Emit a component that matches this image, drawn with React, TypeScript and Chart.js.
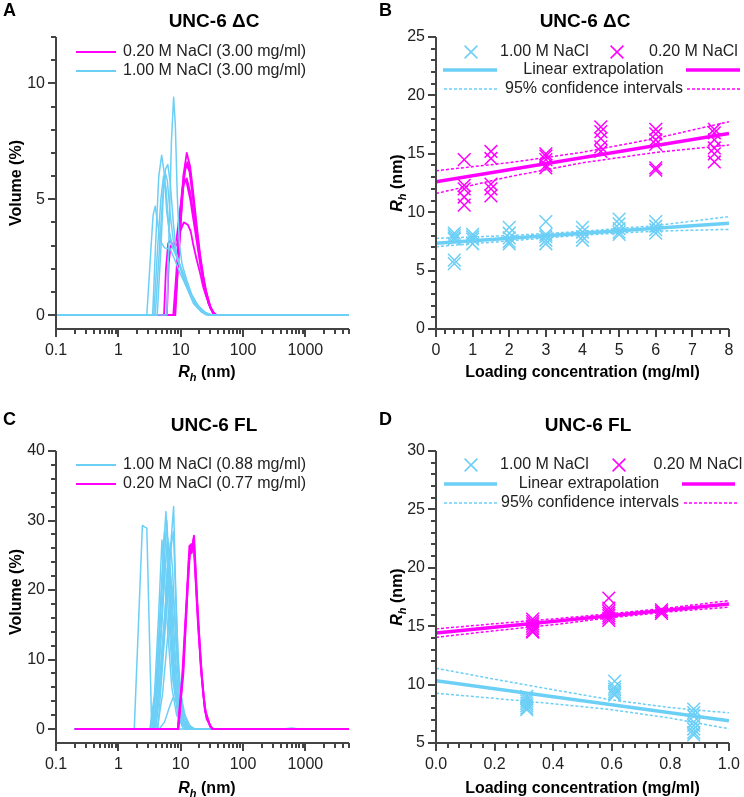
import React, { useEffect, useRef } from 'react';
import { Chart, registerables } from 'chart.js';

Chart.register(...registerables);

type Pt = [number, number];

const CYAN = '#6CCFF6';
const MAGENTA = '#FF00FF';
const AXIS_COLOR = '#444444';
const TEXT_COLOR = '#222222';
const FONT = '"Liberation Sans", Arial, Helvetica, sans-serif';

// ---------------- Panel A : UNC-6 ΔC DLS volume distributions ----------------
const aTitle = 'UNC-6 ΔC';
const aLowSaltLabel = '0.20 M NaCl (3.00 mg/ml)';
const aHighSaltLabel = '1.00 M NaCl (3.00 mg/ml)';
const aXTicks = [0.1, 1, 10, 100, 1000];
const aXTickLabels = ['0.1', '1', '10', '100', '1000'];
const aYTicks = [0, 5, 10];
const aYTickLabels = ['0', '5', '10'];
const aHighSaltCurves: Pt[][] = [
  [[0.1, 0], [2.86, 0], [3.25, 2.4], [3.6, 4.3], [3.9, 4.7], [4.2, 4.1], [4.7, 3.2], [5.5, 2.9], [6.8, 2.85], [8.0, 2.4], [9.8, 1.8], [12.5, 1.2], [15, 0.8], [18, 0.45], [23, 0.18], [27, 0.05], [31, 0], [5000, 0]],
  [[0.1, 0], [3.55, 0], [3.95, 3.0], [4.45, 6.0], [4.95, 6.9], [5.4, 6.2], [6.0, 4.4], [7.0, 3.1], [8.6, 2.5], [11, 1.8], [14, 1.0], [18, 0.5], [23, 0.15], [29, 0], [5000, 0]],
  [[0.1, 0], [3.9, 0], [4.5, 2.6], [5.1, 5.0], [5.7, 6.3], [6.2, 6.5], [6.8, 5.7], [7.6, 4.0], [8.6, 2.6], [10, 2.0], [12.5, 1.3], [16, 0.6], [22, 0.15], [30, 0], [5000, 0]],
  [[0.1, 0], [3.7, 0], [4.2, 2.6], [4.8, 5.0], [5.3, 6.0], [5.8, 5.5], [6.5, 3.6], [7.5, 2.9], [8.6, 2.6], [10.5, 1.9], [13, 1.2], [17, 0.5], [22, 0.15], [28, 0], [5000, 0]],
  [[0.1, 0], [4.2, 0], [4.8, 2.8], [5.3, 5.4], [5.7, 6.1], [6.1, 5.8], [6.8, 4.3], [7.8, 3.0], [9.2, 2.3], [12, 1.3], [16, 0.5], [21, 0.15], [26, 0], [5000, 0]],
  [[0.1, 0], [6.0, 0], [6.5, 3.5], [7.1, 7.5], [7.7, 9.4], [8.2, 8.2], [8.8, 5.2], [9.5, 3.1], [10.5, 2.2], [12.5, 1.5], [15, 0.9], [19, 0.4], [25, 0.1], [33, 0], [5000, 0]],
];
const aLowSaltCurves: Pt[][] = [
  [[0.1, 0], [7.8, 0], [8.6, 1.5], [9.8, 3.8], [11, 6.0], [12.5, 7.0], [14.2, 6.4], [16, 5.2], [18, 3.9], [20.5, 2.6], [23, 1.7], [26, 0.95], [29.6, 0.4], [33, 0.1], [37, 0], [5000, 0]],
  [[0.1, 0], [8.0, 0], [9.0, 2.0], [10.2, 4.3], [11.3, 6.0], [12.3, 6.5], [13.8, 6.2], [16, 4.9], [18, 3.6], [20.5, 2.4], [23, 1.5], [26, 0.85], [30, 0.3], [35, 0], [5000, 0]],
  [[0.1, 0], [7.6, 0], [8.5, 1.8], [9.6, 4.0], [10.5, 5.4], [11.2, 5.9], [12.5, 5.7], [14.2, 5.0], [16, 4.1], [18, 3.2], [20.5, 2.2], [24, 1.2], [28, 0.5], [33, 0.1], [38, 0], [5000, 0]],
  [[0.1, 0], [5.4, 0], [5.8, 2.0], [6.3, 3.1], [6.8, 3.2], [7.6, 3.0], [8.6, 3.0], [9.8, 3.6], [11.2, 4.0], [13, 3.9], [14.5, 3.6], [16, 3.0], [18, 2.4], [20.5, 1.8], [23, 1.2], [26, 0.75], [30, 0.3], [35, 0], [5000, 0]],
  [[0.1, 0], [8.2, 0], [9.2, 2.5], [10.5, 5.0], [11.8, 6.3], [12.8, 6.6], [14.2, 6.2], [16, 5.0], [18, 3.7], [20.5, 2.5], [24, 1.3], [28, 0.5], [34, 0], [5000, 0]],
  [[0.1, 0], [6.0, 0], [6.4, 2.2], [6.9, 3.0], [7.6, 2.9], [8.6, 3.3], [9.8, 4.6], [11, 5.6], [12.5, 5.9], [14.2, 5.3], [16, 4.4], [18, 3.4], [21, 2.2], [25, 1.1], [30, 0.35], [36, 0], [5000, 0]],
];

// ---------------- Panel B : UNC-6 ΔC Rh vs loading concentration ----------------
const bXTicks = [0, 1, 2, 3, 4, 5, 6, 7, 8];
const bXTickLabels = ['0', '1', '2', '3', '4', '5', '6', '7', '8'];
const bYTicks = [0, 5, 10, 15, 20, 25];
const bYTickLabels = ['0', '5', '10', '15', '20', '25'];
const bHighSaltConc = [0.5, 1, 2, 3, 4, 5, 6];
const bHighSaltRh = [
  [8.2, 8.0, 7.8, 7.7, 5.9, 5.6],
  [8.1, 7.9, 7.7, 7.3],
  [8.7, 8.2, 7.8, 7.5, 7.3],
  [9.2, 8.1, 7.9, 7.6, 7.3],
  [8.7, 8.3, 7.9, 7.6],
  [9.4, 9.0, 8.6, 8.3, 8.1],
  [9.2, 8.8, 8.5, 8.2],
];
const bLowSaltConc = [0.77, 1.5, 3, 4.5, 6, 7.6];
const bLowSaltRh = [
  [14.5, 12.3, 12.0, 11.3, 10.6],
  [15.2, 14.6, 12.4, 12.0, 11.4],
  [15.0, 14.8, 14.5, 14.0, 13.8],
  [17.3, 16.9, 16.3, 15.6, 15.2],
  [17.1, 16.7, 16.2, 15.8, 13.8, 13.6],
  [17.1, 16.8, 16.2, 15.5, 15.0, 14.3],
];
const bHighSaltFit: Pt[] = [[0, 7.34], [8, 9.05]];
const bLowSaltFit: Pt[] = [[0, 12.6], [8, 16.75]];
const bCiConc = [0, 2, 4, 6, 8];
const bHighSaltUpper = [7.76, 8.0, 8.36, 8.85, 9.62];
const bHighSaltLower = [7.05, 7.55, 8.04, 8.38, 8.53];
const bLowSaltUpper = [13.55, 14.24, 15.13, 16.32, 17.75];
const bLowSaltLower = [11.6, 13.04, 14.23, 15.12, 15.75];

// ---------------- Panel C : UNC-6 FL DLS volume distributions ----------------
const cTitle = 'UNC-6 FL';
const cHighSaltLabel = '1.00 M NaCl (0.88 mg/ml)';
const cLowSaltLabel = '0.20 M NaCl (0.77 mg/ml)';
const cXTicks = [0.1, 1, 10, 100, 1000];
const cXTickLabels = ['0.1', '1', '10', '100', '1000'];
const cYTicks = [0, 10, 20, 30, 40];
const cYTickLabels = ['0', '10', '20', '30', '40'];
const cHighSaltCurves: Pt[][] = [
  [[0.2, 0], [1.8, 0], [2.43, 29.3], [2.62, 29.1], [2.86, 28.9], [3.43, 0], [5000, 0]],
  [[0.2, 0], [3.3, 0], [4.1, 6], [4.8, 17], [5.4, 27], [5.8, 31.3], [6.3, 24], [7.0, 14], [8.0, 6], [9.5, 2], [12, 0.5], [15, 0], [450, 0], [600, 0.15], [800, 0], [5000, 0]],
  [[0.2, 0], [4.3, 0], [5.0, 8], [5.8, 16], [6.6, 24], [7.2, 28.5], [7.7, 32.0], [8.2, 22], [9.0, 11], [10, 5], [12, 1.5], [15, 0], [5000, 0]],
  [[0.2, 0], [4.0, 0], [4.8, 7], [5.6, 15], [6.5, 23], [7.2, 27], [7.65, 28.4], [8.3, 19], [9.3, 8], [11, 2.5], [14, 0.5], [17, 0], [5000, 0]],
  [[0.2, 0], [3.2, 0], [3.8, 5], [4.4, 16], [5.0, 27.2], [5.5, 22], [6.2, 14], [7.2, 6], [8.6, 2], [11, 0.4], [13, 0], [5000, 0]],
  [[0.2, 0], [3.6, 0], [4.3, 6], [5.0, 15], [5.7, 24], [6.2, 27.5], [6.8, 22], [7.6, 13], [8.8, 5], [10.5, 1.5], [13, 0], [5000, 0]],
  [[0.2, 0], [3.5, 0], [4.2, 8], [4.9, 20], [5.5, 28.5], [6.0, 25], [6.7, 16], [7.8, 7], [9.5, 2], [12, 0], [5000, 0]],
  [[0.2, 0], [3.9, 0], [4.6, 7], [5.4, 15], [6.2, 22], [6.8, 26.8], [7.4, 23], [8.3, 13], [9.5, 5], [11.5, 1.2], [14, 0], [5000, 0]],
  [[0.2, 0], [3.7, 0], [4.4, 8], [5.1, 18], [5.6, 26], [6.0, 30], [6.5, 23], [7.3, 13], [8.5, 5], [10.5, 1], [13, 0], [5000, 0]],
  [[0.2, 0], [4.5, 0], [5.5, 1], [6.5, 3], [7.5, 4.5], [8.3, 4.2], [9.5, 2.5], [11.5, 0.8], [14, 0.2], [17, 0], [5000, 0]],
  [[0.2, 0], [3.4, 0], [4.0, 6], [4.7, 17], [5.3, 25], [5.8, 23], [6.5, 15], [7.5, 7], [9, 2], [11, 0], [5000, 0]],
  [[0.2, 0], [4.2, 0], [5.1, 5], [6.0, 12], [6.8, 18], [7.3, 20.5], [8.0, 17], [9.0, 9], [10.5, 3], [13, 0.5], [16, 0], [5000, 0]],
  [[0.2, 0], [3.8, 0], [4.6, 7], [5.5, 16], [6.1, 22], [6.5, 25], [7.1, 21], [8.0, 12], [9.3, 4], [11.5, 0.8], [14, 0], [5000, 0]],
];
const cLowSaltCurves: Pt[][] = [
  [[0.2, 0], [9.0, 0], [10.5, 7], [12.5, 19], [13.8, 26.3], [14.8, 26.6], [15.6, 26.0], [16.3, 27.8], [18.5, 18], [21.5, 8], [24.6, 2.8], [29.6, 0.4], [33, 0], [5000, 0]],
  [[0.2, 0], [9.2, 0], [11, 9], [13, 21], [14.2, 26.0], [15.0, 25.3], [16.0, 27.2], [18, 19], [21, 9], [24.6, 2.5], [30, 0.3], [33.5, 0], [5000, 0]],
  [[0.2, 0], [9.0, 0], [11, 8], [13.5, 24], [14.5, 26.4], [15.5, 25.8], [16.2, 27.5], [19, 15], [23, 5], [26, 1.5], [32, 0], [5000, 0]],
];

// ---------------- Panel D : UNC-6 FL Rh vs loading concentration ----------------
const dXTicks = [0, 0.2, 0.4, 0.6, 0.8, 1.0];
const dXTickLabels = ['0.0', '0.2', '0.4', '0.6', '0.8', '1.0'];
const dYTicks = [5, 10, 15, 20, 25, 30];
const dYTickLabels = ['5', '10', '15', '20', '25', '30'];
const dHighSaltConc = [0.31, 0.61, 0.88];
const dHighSaltRh = [
  [9.0, 8.8, 8.6, 8.4, 8.2, 8.0, 7.85],
  [10.3, 9.8, 9.6, 9.4, 9.2, 9.1],
  [7.9, 7.6, 7.3, 6.8, 6.5, 6.2, 5.9, 5.7],
];
const dLowSaltConc = [0.33, 0.59, 0.77];
const dLowSaltRh = [
  [15.6, 15.4, 15.2, 15.0, 14.8, 14.6, 14.5],
  [17.4, 16.55, 16.3, 16.1, 15.9, 15.7, 15.5],
  [16.4, 16.25, 16.1],
];
const dHighSaltFit: Pt[] = [[0, 10.33], [1, 6.9]];
const dLowSaltFit: Pt[] = [[0, 14.41], [1, 16.91]];
const dCiConc = [0, 0.2, 0.4, 0.6, 0.8, 1.0];
const dHighSaltUpper = [11.4, 10.46, 9.56, 8.69, 8.03, 7.58];
const dHighSaltLower = [9.26, 8.82, 8.36, 7.85, 7.13, 6.22];
const dLowSaltUpper = [14.77, 15.21, 15.62, 16.08, 16.58, 17.19];
const dLowSaltLower = [14.05, 14.61, 15.12, 15.74, 16.24, 16.63];

// ---------------- shared text ----------------
const highSaltShort = '1.00 M NaCl';
const lowSaltShort = '0.20 M NaCl';
const fitLabel = 'Linear extrapolation';
const ciLabel = '95% confidence intervals';
const concTitle = 'Loading concentration (mg/ml)';
const volTitle = 'Volume (%)';

// ---------------- helpers ----------------
const f = (style: string, size: number) => `${style} ${size}px ${FONT}`;
const rhParts = [
  { t: 'R', font: f('italic bold', 16) },
  { t: 'h', font: f('italic bold', 11), dy: 4 },
  { t: ' (nm)', font: f('bold', 16) },
];

function logMinor(from: number, to: number): number[] {
  const out: number[] = [];
  for (let d = from; d < to; d *= 10) {
    for (let k = 2; k <= 9; k++) {
      const v = +(k * d).toPrecision(6);
      if (v <= to * 1.0001) out.push(v);
    }
  }
  return out;
}
function linMinor(min: number, max: number, step: number, major: number): number[] {
  const out: number[] = [];
  const n0 = Math.round(min / step), n1 = Math.round(max / step);
  for (let i = n0; i <= n1; i++) {
    const v = +(i * step).toFixed(6);
    const r = v / major;
    if (Math.abs(r - Math.round(r)) > 1e-6) out.push(v);
  }
  return out;
}

const xy = (pts: Pt[]) => pts.map(([x, y]) => ({ x, y }));

function curveSets(curves: Pt[][], color: string, width: number) {
  return curves.map((c) => ({
    data: xy(c),
    showLine: true,
    borderColor: color,
    backgroundColor: color,
    borderWidth: width,
    borderJoinStyle: 'round',
    pointRadius: 0,
    pointHoverRadius: 0,
    fill: false,
    tension: 0,
  }));
}
function markerSet(conc: number[], rh: number[][], color: string) {
  return {
    data: conc.flatMap((c, i) => rh[i].map((r) => ({ x: c, y: r }))),
    showLine: false,
    pointStyle: 'crossRot',
    pointRadius: 9,
    pointHoverRadius: 9,
    pointBorderWidth: 1.5,
    borderWidth: 1.5,
    borderColor: color,
    backgroundColor: color,
  };
}
function lineSet(pts: Pt[], color: string, width: number, dash: number[] = []) {
  return {
    data: xy(pts),
    showLine: true,
    borderColor: color,
    backgroundColor: color,
    borderWidth: width,
    borderDash: dash,
    pointRadius: 0,
    pointHoverRadius: 0,
    fill: false,
    tension: 0,
  };
}
const zipPts = (xs: number[], ys: number[]): Pt[] => xs.map((x, i) => [x, ys[i]]);

interface TextPart { t: string; font: string; dy?: number }
type LegendItem =
  | { kind: 'line'; x1: number; x2: number; y: number; color: string; width: number; dash?: number[] }
  | { kind: 'cross'; x: number; y: number; color: string }
  | { kind: 'text'; text: string; x: number; y: number; align: CanvasTextAlign };

interface Decor {
  letter: string; letterX: number; letterY: number;
  title: string; titleX: number; titleY: number;
  xTitle: TextPart[]; xTitleX: number; xTitleY: number;
  yTitle: TextPart[]; yTitleX: number; yTitleY: number;
  majorX: number[]; majorY: number[];
  minorX: number[]; minorY: number[];
  legend: LegendItem[];
}

function drawParts(ctx: CanvasRenderingContext2D, parts: TextPart[], cx: number, cy: number, rotated: boolean) {
  ctx.save();
  ctx.translate(cx, cy);
  if (rotated) ctx.rotate(-Math.PI / 2);
  let total = 0;
  const widths = parts.map((p) => {
    ctx.font = p.font;
    const w = ctx.measureText(p.t).width;
    total += w;
    return w;
  });
  let x = -total / 2;
  ctx.fillStyle = '#000';
  ctx.textAlign = 'left';
  ctx.textBaseline = 'alphabetic';
  parts.forEach((p, i) => {
    ctx.font = p.font;
    ctx.fillText(p.t, x, 6 + (p.dy || 0));
    x += widths[i];
  });
  ctx.restore();
}

const MAJOR_LEN = 8;
const MINOR_LEN = 5;

function decorPlugin(d: Decor) {
  return {
    id: 'figureDecor',
    afterDraw(chart: any) {
      const ctx: CanvasRenderingContext2D = chart.ctx;
      const a = chart.chartArea;
      const xs = chart.scales.x;
      const ys = chart.scales.y;
      ctx.save();
      ctx.setLineDash([]);
      // tick marks (major + minor), pixel-aligned, 2px wide
      ctx.fillStyle = AXIS_COLOR;
      const bottom = Math.round(a.bottom);
      const left = Math.round(a.left);
      const xTick = (v: number, len: number) => {
        const p = Math.round(xs.getPixelForValue(v));
        ctx.fillRect(p - 1, bottom, 2, len);
      };
      const yTick = (v: number, len: number) => {
        const p = Math.round(ys.getPixelForValue(v));
        ctx.fillRect(left - len, p - 1, len, 2);
      };
      d.majorX.forEach((v) => xTick(v, MAJOR_LEN));
      d.minorX.forEach((v) => xTick(v, MINOR_LEN));
      d.majorY.forEach((v) => yTick(v, MAJOR_LEN));
      d.minorY.forEach((v) => yTick(v, MINOR_LEN));
      // axis lines
      ctx.fillRect(left - 1, Math.round(a.top), 2, bottom - Math.round(a.top) + 1);
      ctx.fillRect(left - 1, bottom - 1, Math.round(a.right) - left + 1, 2);
      // letter + title
      ctx.fillStyle = '#000';
      ctx.textBaseline = 'middle';
      ctx.textAlign = 'left';
      ctx.font = f('bold', 18);
      ctx.fillText(d.letter, d.letterX, d.letterY);
      ctx.textAlign = 'center';
      ctx.font = f('bold', 19);
      ctx.fillText(d.title, d.titleX, d.titleY);
      // axis titles
      drawParts(ctx, d.xTitle, d.xTitleX, d.xTitleY, false);
      drawParts(ctx, d.yTitle, d.yTitleX, d.yTitleY, true);
      // legend
      d.legend.forEach((it) => {
        if (it.kind === 'line') {
          ctx.save();
          ctx.strokeStyle = it.color;
          ctx.lineWidth = it.width;
          ctx.setLineDash(it.dash || []);
          ctx.beginPath();
          ctx.moveTo(it.x1, it.y);
          ctx.lineTo(it.x2, it.y);
          ctx.stroke();
          ctx.restore();
        } else if (it.kind === 'cross') {
          const r = 6.4;
          ctx.save();
          ctx.strokeStyle = it.color;
          ctx.lineWidth = 1.5;
          ctx.beginPath();
          ctx.moveTo(it.x - r, it.y - r);
          ctx.lineTo(it.x + r, it.y + r);
          ctx.moveTo(it.x - r, it.y + r);
          ctx.lineTo(it.x + r, it.y - r);
          ctx.stroke();
          ctx.restore();
        } else {
          ctx.fillStyle = TEXT_COLOR;
          ctx.font = f('normal', 16);
          ctx.textAlign = it.align;
          ctx.textBaseline = 'middle';
          ctx.fillText(it.text, it.x, it.y);
        }
      });
      ctx.restore();
    },
  };
}

interface AxisSpec { type: string; min: number; max: number; major: number[]; labels: string[] }
interface Area { left: number; top: number; right: number; bottom: number }

function axisOptions(ax: AxisSpec, isX: boolean, size: number) {
  return {
    type: ax.type,
    position: isX ? 'bottom' : 'left',
    min: ax.min,
    max: ax.max,
    afterBuildTicks: (s: any) => {
      s.ticks = ax.major.map((v) => ({ value: v }));
    },
    afterFit: (s: any) => {
      if (isX) s.height = size;
      else s.width = size;
    },
    ticks: {
      autoSkip: false,
      maxRotation: 0,
      minRotation: 0,
      padding: isX ? 4 : 3,
      color: TEXT_COLOR,
      font: { family: FONT, size: 16 },
      callback: (v: number) => {
        const i = ax.major.findIndex((m) => Math.abs(m - v) < 1e-9);
        return i >= 0 ? ax.labels[i] : '';
      },
    },
    grid: {
      display: true,
      drawOnChartArea: false,
      drawTicks: true,
      tickLength: MAJOR_LEN,
      color: 'rgba(0,0,0,0)',
      tickColor: 'rgba(0,0,0,0)',
      lineWidth: 1,
    },
    border: { display: false },
    title: { display: false },
  };
}

function makeConfig(W: number, H: number, area: Area, x: AxisSpec, y: AxisSpec, datasets: any[], decor: Decor) {
  return {
    type: 'scatter',
    data: { datasets },
    options: {
      responsive: false,
      maintainAspectRatio: false,
      animation: false,
      devicePixelRatio: 1,
      events: [],
      layout: { padding: { left: 0, top: area.top, right: W - area.right, bottom: 0 } },
      plugins: { legend: { display: false }, tooltip: { enabled: false }, title: { display: false } },
      scales: {
        x: axisOptions(x, true, H - area.bottom),
        y: axisOptions(y, false, area.left),
      },
    },
    plugins: [decorPlugin(decor)],
  };
}

// ---------------- panel configs ----------------
const W = 372;
const TOP_H = 390;
const BOT_H = 407;

function configA() {
  const area = { left: 56, top: 37, right: 349, bottom: 329 };
  return makeConfig(
    W, TOP_H, area,
    { type: 'logarithmic', min: 0.1, max: 5000, major: aXTicks, labels: aXTickLabels },
    { type: 'linear', min: -0.6, max: 12, major: aYTicks, labels: aYTickLabels },
    [...curveSets(aHighSaltCurves, CYAN, 1.5), ...curveSets(aLowSaltCurves, MAGENTA, 1.8)],
    {
      letter: 'A', letterX: 3, letterY: 11,
      title: aTitle, titleX: 214, titleY: 22,
      xTitle: rhParts, xTitleX: 207, xTitleY: 371,
      yTitle: [{ t: volTitle, font: f('bold', 16) }], yTitleX: 15, yTitleY: 183,
      majorX: aXTicks, majorY: aYTicks,
      minorX: logMinor(0.1, 5000), minorY: linMinor(0, 12, 1, 5),
      legend: [
        { kind: 'line', x1: 76, x2: 116, y: 52, color: MAGENTA, width: 2 },
        { kind: 'text', text: aLowSaltLabel, x: 123, y: 52, align: 'left' },
        { kind: 'line', x1: 76, x2: 116, y: 71, color: CYAN, width: 2 },
        { kind: 'text', text: aHighSaltLabel, x: 123, y: 71, align: 'left' },
      ],
    },
  );
}

function configB() {
  const area = { left: 64, top: 37, right: 357, bottom: 329 };
  return makeConfig(
    W, TOP_H, area,
    { type: 'linear', min: 0, max: 8, major: bXTicks, labels: bXTickLabels },
    { type: 'linear', min: 0, max: 25, major: bYTicks, labels: bYTickLabels },
    [
      markerSet(bLowSaltConc, bLowSaltRh, MAGENTA),
      markerSet(bHighSaltConc, bHighSaltRh, CYAN),
      lineSet(bLowSaltFit, MAGENTA, 3.5),
      lineSet(bHighSaltFit, CYAN, 3.5),
      lineSet(zipPts(bCiConc, bLowSaltUpper), MAGENTA, 1.5, [3, 2]),
      lineSet(zipPts(bCiConc, bLowSaltLower), MAGENTA, 1.5, [3, 2]),
      lineSet(zipPts(bCiConc, bHighSaltUpper), CYAN, 1.5, [3, 2]),
      lineSet(zipPts(bCiConc, bHighSaltLower), CYAN, 1.5, [3, 2]),
    ],
    {
      letter: 'B', letterX: 7, letterY: 11,
      title: aTitle, titleX: 213, titleY: 22,
      xTitle: [{ t: concTitle, font: f('bold', 16) }], xTitleX: 210.5, xTitleY: 371,
      yTitle: rhParts, yTitleX: 24, yTitleY: 183,
      majorX: bXTicks, majorY: bYTicks,
      minorX: linMinor(0, 8, 0.25, 1), minorY: linMinor(0, 25, 1, 5),
      legend: [
        { kind: 'cross', x: 99, y: 52, color: CYAN },
        { kind: 'text', text: highSaltShort, x: 128, y: 52, align: 'left' },
        { kind: 'cross', x: 245, y: 52, color: MAGENTA },
        { kind: 'text', text: lowSaltShort, x: 277, y: 52, align: 'left' },
        { kind: 'line', x1: 71, x2: 125, y: 70, color: CYAN, width: 3.5 },
        { kind: 'text', text: fitLabel, x: 221.5, y: 70, align: 'center' },
        { kind: 'line', x1: 314, x2: 368, y: 70, color: MAGENTA, width: 3.5 },
        { kind: 'line', x1: 72, x2: 125, y: 89, color: CYAN, width: 1.5, dash: [3, 2] },
        { kind: 'text', text: ciLabel, x: 222, y: 89, align: 'center' },
        { kind: 'line', x1: 315, x2: 368, y: 89, color: MAGENTA, width: 1.5, dash: [3, 2] },
      ],
    },
  );
}

function configC() {
  const area = { left: 56, top: 61, right: 349, bottom: 353 };
  return makeConfig(
    W, BOT_H, area,
    { type: 'logarithmic', min: 0.1, max: 5000, major: cXTicks, labels: cXTickLabels },
    { type: 'linear', min: -2, max: 40, major: cYTicks, labels: cYTickLabels },
    [...curveSets(cLowSaltCurves, MAGENTA, 2), ...curveSets(cHighSaltCurves, CYAN, 1.5)],
    {
      letter: 'C', letterX: 3, letterY: 30,
      title: cTitle, titleX: 214, titleY: 36,
      xTitle: rhParts, xTitleX: 207, xTitleY: 397,
      yTitle: [{ t: volTitle, font: f('bold', 16) }], yTitleX: 15, yTitleY: 202,
      majorX: cXTicks, majorY: cYTicks,
      minorX: logMinor(0.1, 5000), minorY: linMinor(0, 40, 2, 10),
      legend: [
        { kind: 'line', x1: 76, x2: 116, y: 75, color: CYAN, width: 2 },
        { kind: 'text', text: cHighSaltLabel, x: 123, y: 75, align: 'left' },
        { kind: 'line', x1: 76, x2: 116, y: 94, color: MAGENTA, width: 2 },
        { kind: 'text', text: cLowSaltLabel, x: 123, y: 94, align: 'left' },
      ],
    },
  );
}

function configD() {
  const area = { left: 64, top: 61, right: 357, bottom: 353 };
  return makeConfig(
    W, BOT_H, area,
    { type: 'linear', min: 0, max: 1, major: dXTicks, labels: dXTickLabels },
    { type: 'linear', min: 5, max: 30, major: dYTicks, labels: dYTickLabels },
    [
      markerSet(dLowSaltConc, dLowSaltRh, MAGENTA),
      markerSet(dHighSaltConc, dHighSaltRh, CYAN),
      lineSet(dLowSaltFit, MAGENTA, 3.5),
      lineSet(dHighSaltFit, CYAN, 3.5),
      lineSet(zipPts(dCiConc, dLowSaltUpper), MAGENTA, 1.5, [3, 2]),
      lineSet(zipPts(dCiConc, dLowSaltLower), MAGENTA, 1.5, [3, 2]),
      lineSet(zipPts(dCiConc, dHighSaltUpper), CYAN, 1.5, [3, 2]),
      lineSet(zipPts(dCiConc, dHighSaltLower), CYAN, 1.5, [3, 2]),
    ],
    {
      letter: 'D', letterX: 7, letterY: 30,
      title: cTitle, titleX: 216, titleY: 36,
      xTitle: [{ t: concTitle, font: f('bold', 16) }], xTitleX: 210.5, xTitleY: 397,
      yTitle: rhParts, yTitleX: 24, yTitleY: 207,
      majorX: dXTicks, majorY: dYTicks,
      minorX: linMinor(0, 1, 0.04, 0.2), minorY: linMinor(5, 30, 1, 5),
      legend: [
        { kind: 'cross', x: 99, y: 75, color: CYAN },
        { kind: 'text', text: highSaltShort, x: 128, y: 75, align: 'left' },
        { kind: 'cross', x: 247, y: 75, color: MAGENTA },
        { kind: 'text', text: lowSaltShort, x: 281.5, y: 75, align: 'left' },
        { kind: 'line', x1: 72, x2: 125, y: 94, color: CYAN, width: 3.5 },
        { kind: 'text', text: fitLabel, x: 217, y: 94, align: 'center' },
        { kind: 'line', x1: 310, x2: 363, y: 94, color: MAGENTA, width: 3.5 },
        { kind: 'line', x1: 72, x2: 125, y: 113, color: CYAN, width: 1.5, dash: [3, 2] },
        { kind: 'text', text: ciLabel, x: 218, y: 113, align: 'center' },
        { kind: 'line', x1: 312, x2: 365, y: 113, color: MAGENTA, width: 1.5, dash: [3, 2] },
      ],
    },
  );
}

function Panel(props: { left: number; top: number; width: number; height: number; build: () => any }) {
  const ref = useRef<HTMLCanvasElement | null>(null);
  useEffect(() => {
    if (!ref.current) return;
    const chart = new Chart(ref.current, props.build());
    return () => chart.destroy();
  }, []);
  return (
    <canvas
      ref={ref}
      width={props.width}
      height={props.height}
      style={{ position: 'absolute', left: props.left, top: props.top, width: props.width, height: props.height }}
    />
  );
}

export default function App() {
  return (
    <div style={{ position: 'absolute', left: 0, top: 0, width: 744, height: 797, background: '#fff', overflow: 'hidden' }}>
      <Panel left={0} top={0} width={W} height={TOP_H} build={configA} />
      <Panel left={372} top={0} width={W} height={TOP_H} build={configB} />
      <Panel left={0} top={390} width={W} height={BOT_H} build={configC} />
      <Panel left={372} top={390} width={W} height={BOT_H} build={configD} />
    </div>
  );
}
